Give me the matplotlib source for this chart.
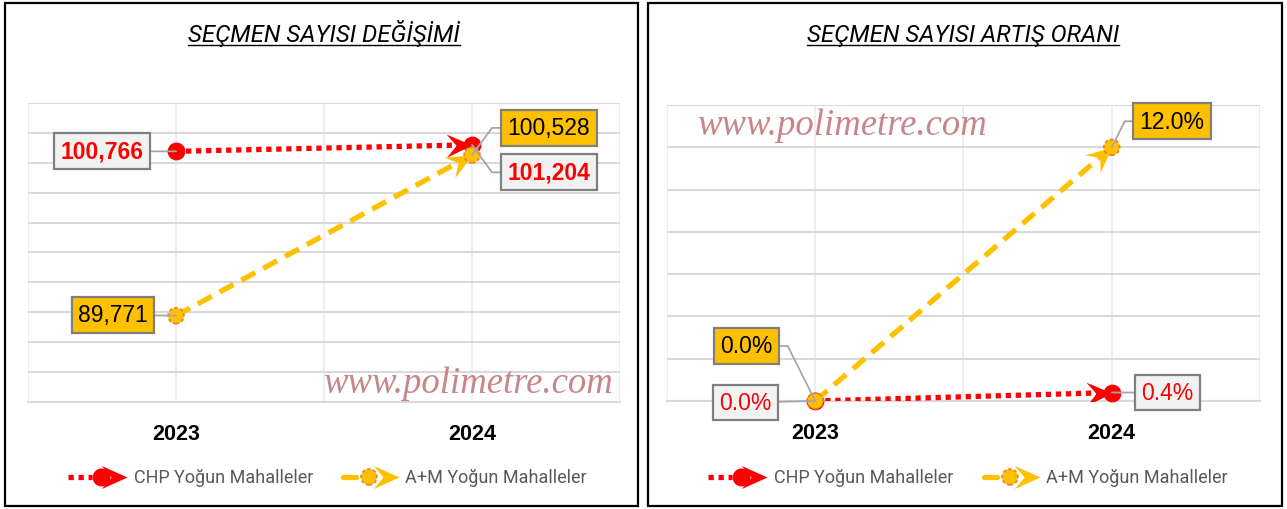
import math
import matplotlib
matplotlib.use('Agg')
import matplotlib.pyplot as plt
from matplotlib.path import Path
from matplotlib.markers import MarkerStyle
from matplotlib.transforms import Affine2D
from matplotlib.patches import Rectangle

# veriler
years = ['2023', '2024']
chp_count = [100766, 101204]
am_count = [89771, 100528]
chp_rate = [0.0, 0.4]
am_rate = [0.0, 12.0]

RED = '#FF0000'
YEL = '#FFC000'
ORG = '#ED7D31'
BOXG = '#F2F2F2'
EDGE = '#7F7F7F'
LEAD = '#A6A6A6'

W, H = 1287, 510
fig = plt.figure(figsize=(W / 100, H / 100), dpi=100)


def px_rect(x0, y0, x1, y1):
    return [x0 / W, 1 - y1 / H, (x1 - x0) / W, (y1 - y0) / H]


# ok ucu (stealth)
arrow_path = Path([(0, 0), (-1, 0.45), (-0.62, 0), (-1, -0.45), (0, 0)],
                  [Path.MOVETO, Path.LINETO, Path.LINETO, Path.LINETO, Path.CLOSEPOLY])


def arrow_marker(angle):
    return MarkerStyle(arrow_path, transform=Affine2D().rotate_deg(angle))


def setup_axes(ax, ymin, ymax, step):
    ax.set_xlim(-0.5, 1.5)
    ax.set_ylim(ymin, ymax)
    ax.set_yticks([ymin + k * step for k in range(int(round((ymax - ymin) / step)) + 1)])
    ax.set_xticks([0, 1])
    ax.set_xticks([-0.5, 0.5, 1.5], minor=True)
    ax.set_xticklabels(years, fontsize=15.5, fontweight='bold', family='Liberation Sans')
    ax.grid(axis='y', color='#D9D9D9', lw=1.5)
    ax.grid(axis='x', which='both', color='#EBEBEB', lw=1.2)
    ax.tick_params(which='both', length=0, labelleft=False)
    ax.tick_params(axis='x', pad=15)
    for s in ['top', 'left', 'right']:
        ax.spines[s].set_visible(False)
    ax.spines['bottom'].set_color('#D9D9D9')
    ax.spines['bottom'].set_linewidth(1.5)
    ax.set_axisbelow(True)
    ax.patch.set_visible(False)


def draw_series(ax, ys, color, dashes, yellow):
    x = [0, 1]
    z = 4 if yellow else 3
    ax.plot(x, ys, color=color, lw=3.8, dashes=dashes, zorder=z)
    p = ax.transData.transform([(0, ys[0]), (1, ys[1])])
    ang = math.degrees(math.atan2(p[1, 1] - p[0, 1], p[1, 0] - p[0, 0]))
    ax.plot([1], [ys[1]], marker=arrow_marker(ang), ms=37, color=color, mew=0,
            ls='none', zorder=z)
    if yellow:
        ax.scatter(x, ys, s=130, facecolor=YEL, edgecolor=ORG, linewidths=1.2,
                   linestyle=(0, (2, 1.5)), zorder=5, clip_on=False)
    else:
        ax.scatter(x, ys, s=140, color=RED, zorder=3.5, clip_on=False)


def label(ax, x, y, text, dx, dy, face, tcolor, weight, size, conn=None):
    cs = 'arc3' if conn is None else 'angle,angleA=0,angleB=%s,rad=0' % conn
    ax.annotate(text, xy=(x, y), xytext=(dx, dy), textcoords='offset pixels',
                ha='center', va='center', fontsize=size, color=tcolor,
                fontweight=weight, family='Liberation Sans',
                bbox=dict(boxstyle='square,pad=0.28', fc=face, ec=EDGE, lw=1.6),
                arrowprops=dict(arrowstyle='-', color=LEAD, lw=1.3, shrinkA=0,
                                shrinkB=0, connectionstyle=cs),
                zorder=6, annotation_clip=False)


# sol grafik: secmen sayisi
ax1 = fig.add_axes(px_rect(28, 104, 620, 403))
setup_axes(ax1, 84000, 104000, 2000)
draw_series(ax1, chp_count, RED, (1, 0.9), False)
draw_series(ax1, am_count, YEL, (3, 1.7), True)
label(ax1, 0, chp_count[0], f'{chp_count[0]:,}', -74, 0, BOXG, RED, 'bold', 16.5)
label(ax1, 0, am_count[0], f'{am_count[0]:,}', -63, 1, YEL, 'black', 'normal', 16.5)
label(ax1, 1, am_count[1], f'{am_count[1]:,}', 77, 27, YEL, 'black', 'normal', 16.5, 53.5)
label(ax1, 1, chp_count[1], f'{chp_count[1]:,}', 77, -27.5, BOXG, RED, 'bold', 16.5, -54)

# sag grafik: artis orani
ax2 = fig.add_axes(px_rect(667, 106, 1260, 402))
setup_axes(ax2, 0, 14, 2)
draw_series(ax2, chp_rate, RED, (1, 0.9), False)
draw_series(ax2, am_rate, YEL, (3, 1.7), True)
label(ax2, 0, am_rate[0], f'{am_rate[0]:.1f}%', -69, 55, YEL, 'black', 'normal', 16.5, 116.6)
label(ax2, 0, chp_rate[0], f'{chp_rate[0]:.1f}%', -70, -1.5, BOXG, RED, 'normal', 16.5)
label(ax2, 1, am_rate[1], f'{am_rate[1]:.1f}%', 60, 26, YEL, 'black', 'normal', 16.5, 63.4)
label(ax2, 1, chp_rate[1], f'{chp_rate[1]:.1f}%', 56, 0, BOXG, RED, 'normal', 16.5)

# cerceveler, lejant, basliklar (piksel koordinatlari)
ov = fig.add_axes([0, 0, 1, 1], zorder=10)
ov.set_xlim(0, W)
ov.set_ylim(H, 0)
ov.axis('off')
ov.add_patch(Rectangle((5, 4), 633, 503, fill=False, ec='black', lw=1.6))
ov.add_patch(Rectangle((648, 4), 634, 503, fill=False, ec='black', lw=1.6))


def legend_item(x, y, yellow, text):
    if yellow:
        ov.plot([x, x + 13], [y, y], color=YEL, lw=3.8, solid_capstyle='round')
        ov.plot([x + 56], [y], marker=arrow_marker(0), ms=37, color=YEL, mew=0)
        ov.scatter([x + 26], [y], s=130, facecolor=YEL, edgecolor=ORG,
                   linewidths=1.2, linestyle=(0, (2, 1.5)), zorder=5)
        tx = x + 62
    else:
        ov.plot([x, x + 24], [y, y], color=RED, lw=3.8, dashes=(1, 0.9))
        ov.plot([x + 59], [y], marker=arrow_marker(0), ms=37, color=RED, mew=0)
        ov.scatter([x + 33], [y], s=140, color=RED, zorder=5)
        tx = x + 66
    ov.text(tx, y, text, ha='left', va='center', fontsize=13, color='#595959',
            family='Roboto')


legend_item(68, 478, False, 'CHP Yoğun Mahalleler')
legend_item(343, 478, True, 'A+M Yoğun Mahalleler')
legend_item(708, 478, False, 'CHP Yoğun Mahalleler')
legend_item(984, 478, True, 'A+M Yoğun Mahalleler')

for x, y in [(468, 393), (842, 135)]:
    ov.text(x, y, 'www.polimetre.com', ha='center', va='baseline',
            family='Liberation Serif', style='italic', fontsize=26.5, color='#C9868A')

titles = []
for x, t in [(324, 'SEÇMEN SAYISI DEĞİŞİMİ'), (963, 'SEÇMEN SAYISI ARTIŞ ORANI')]:
    titles.append(ov.text(x, 42, t, ha='center', va='baseline', family='Roboto',
                          style='italic', fontsize=17.3, color='black'))

fig.canvas.draw()
for t in titles:
    bb = t.get_window_extent()
    ov.plot([bb.x0, bb.x1], [46, 46], color='black', lw=1)

fig.savefig('out.png', dpi=100)
